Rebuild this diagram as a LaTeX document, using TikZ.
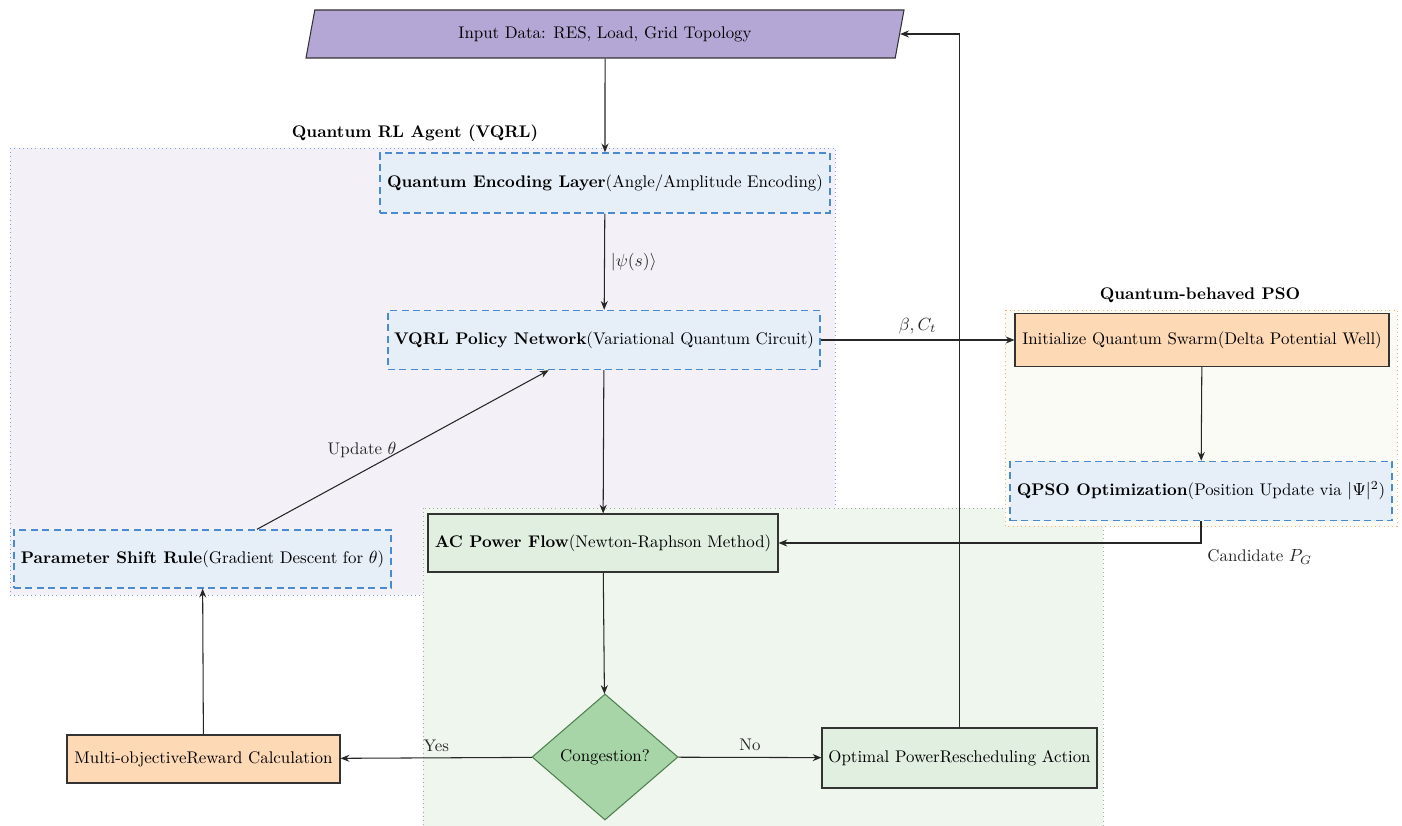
\documentclass[tikz,border=0pt]{standalone}
\usepackage{xcolor}
\usepackage{amsmath}
\usetikzlibrary{shapes.geometric,arrows.meta}

\definecolor{inputpurple}{HTML}{B4A7D6}
\definecolor{agentbg}{HTML}{F3F1F7}
\definecolor{agentline}{HTML}{6FA8DC}
\definecolor{qblue}{HTML}{E6EEF8}
\definecolor{qline}{HTML}{4A8ACF}
\definecolor{flowbg}{HTML}{EFF6EE}
\definecolor{flowline}{HTML}{9EAE9E}
\definecolor{flowbox}{HTML}{E1EFE0}
\definecolor{decgreen}{HTML}{A8D5A8}
\definecolor{decline}{HTML}{4F7F4F}
\definecolor{peach}{HTML}{FDD9B5}
\definecolor{psobg}{HTML}{FBFBF5}
\definecolor{psoline}{HTML}{F6B26B}

\tikzset{
  every node/.style={font=\fontsize{9.6}{11.5}\selectfont},
  qbox/.style={draw=qline, dash pattern=on 4pt off 2.5pt, line width=0.8pt, fill=qblue, align=center, inner sep=2pt},
  plainbox/.style={draw=black!80, line width=0.6pt, fill=flowbox, align=center, inner sep=2pt},
  peachbox/.style={draw=black!80, line width=0.6pt, fill=peach, align=center, inner sep=2pt},
  flowarrow/.style={-{Stealth[length=5pt,width=4pt]}, line width=0.6pt, black!85},
  grouptitle/.style={font=\fontsize{9.6}{11.5}\selectfont\bfseries}
}

\begin{document}
\begin{tikzpicture}
        \useasboundingbox (0,0) rectangle (28.04,-16.52);

        % Group areas
        \draw[agentline, dotted, fill=agentbg] (0.2,-2.96) rectangle (16.7,-11.9);
        \node[grouptitle] (agenttitle) at (8.3,-2.66) {Quantum RL Agent (VQRL)};
        \draw[flowline, dotted, fill=flowbg] (8.46,-10.16) rectangle (22.06,-16.7);
        \draw[psoline, dotted, fill=psobg] (20.1,-6.2) rectangle (27.94,-10.52);
        \node[grouptitle] (psotitle) at (24,-5.9) {Quantum-behaved PSO};

        % Input
        \node[trapezium, trapezium left angle=72, trapezium right angle=108, trapezium stretches body,
              draw=black!80, line width=0.6pt, fill=inputpurple, minimum width=11.96cm, minimum height=0.96cm]
              (input) at (12.1,-0.68) {Input Data: RES, Load, Grid Topology};

        % Quantum RL agent
        \node[qbox, minimum width=9cm, minimum height=1.2cm] (encode) at (12.1,-3.66)
              {\textbf{Quantum Encoding Layer}(Angle/Amplitude Encoding)};
        \node[qbox, minimum width=8.64cm, minimum height=1.18cm] (policy) at (12.08,-6.8)
              {\textbf{VQRL Policy Network}(Variational Quantum Circuit)};
        \node[qbox, minimum width=7.54cm, minimum height=1.16cm] (shift) at (4.05,-11.18)
              {\textbf{Parameter Shift Rule}(Gradient Descent for $\theta$)};

        % Power flow
        \node[plainbox, minimum width=7cm, minimum height=1.16cm] (acflow) at (12.06,-10.86)
              {\textbf{AC Power Flow}(Newton-Raphson Method)};
        \node[diamond, draw=decline, line width=0.6pt, fill=decgreen, minimum width=2.92cm, minimum height=2.52cm, inner sep=1pt]
              (congest) at (12.1,-15.14) {Congestion?};
        \node[peachbox, minimum width=5.46cm, minimum height=0.96cm] (reward) at (4.07,-15.18)
              {Multi-objectiveReward Calculation};
        \node[plainbox, minimum width=5.5cm, minimum height=1.2cm] (optimal) at (19.19,-15.16)
              {Optimal PowerRescheduling Action};

        % QPSO
        \node[peachbox, minimum width=7.48cm, minimum height=1.06cm] (swarm) at (24.04,-6.8)
              {Initialize Quantum Swarm(Delta Potential Well)};
        \node[qbox, minimum width=7.64cm, minimum height=1.18cm] (qpso) at (24.02,-9.82)
              {\textbf{QPSO Optimization}(Position Update via $|\Psi|^2$)};

        % Connectors
        \draw[flowarrow] (input) -- (encode);
        \draw[flowarrow] (encode) -- node[right] {$|\psi(s)\rangle$} (policy);
        \draw[flowarrow] (policy) -- (acflow);
        \draw[flowarrow] (policy) -- node[above] {$\beta, C_t$} (swarm);
        \draw[flowarrow] (swarm) -- (qpso);
        \draw[flowarrow] (qpso) |- node[pos=0.5, below right] {Candidate $P_G$} (acflow);
        \draw[flowarrow] (acflow) -- (congest);
        \draw[flowarrow] (congest) -- node[above] {Yes} (reward);
        \draw[flowarrow] (congest) -- node[above] {No} (optimal);
        \draw[flowarrow] (reward) -- (shift);
        \draw[flowarrow] (shift) -- node[left] {Update $\theta$} (policy);
        \draw[flowarrow] (optimal) |- (input);
    \end{tikzpicture}
\end{document}
